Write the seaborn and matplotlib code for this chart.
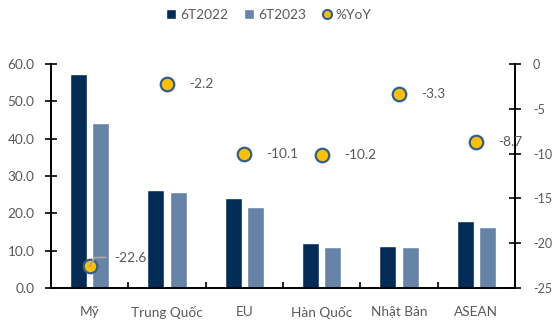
import numpy as np
import pandas as pd
import matplotlib
matplotlib.use("Agg")
import matplotlib.pyplot as plt
from matplotlib.lines import Line2D
from matplotlib.patches import Patch
import seaborn as sns

categories = ["Mỹ", "Trung Quốc", "EU", "Hàn Quốc", "Nhật Bản", "ASEAN"]
val_2022 = [57.2, 26.2, 24.0, 12.1, 11.3, 17.9]
val_2023 = [44.3, 25.6, 21.6, 10.9, 11.0, 16.3]
yoy = [-22.6, -2.2, -10.1, -10.2, -3.3, -8.7]
left_ticks = [0, 10, 20, 30, 40, 50, 60]
right_ticks = [0, -5, -10, -15, -20, -25]

DARK = "#022C55"
LIGHT = "#6683A8"
GOLD = "#FFC000"
RING = "#2F5F8F"
TXT = "#595959"
FS = 9.8

sns.set_theme(style="white")
plt.rcParams["font.family"] = ["Lato", "DejaVu Sans"]

df = pd.DataFrame({
    "cat": categories * 2,
    "val": val_2022 + val_2023,
    "series": ["6T2022"] * 6 + ["6T2023"] * 6,
})

fig = plt.figure(figsize=(5.52, 3.22), dpi=100)
ax = fig.add_axes([51 / 552, 1 - 288 / 322, 464 / 552, 224 / 322])

sns.barplot(data=df, x="cat", y="val", hue="series", palette=[DARK, LIGHT],
            width=0.58, gap=0.24, ax=ax, legend=False, saturation=1)

ax.set_xlim(-0.5, 5.5)
ax.set_ylim(0, 60)
ax.set_yticks(left_ticks)
ax.set_yticklabels([f"{v:.1f}" for v in left_ticks])
ax.set_xlabel("")
ax.set_ylabel("")

ax2 = ax.twinx()
xpos = np.arange(len(categories))
sns.scatterplot(x=xpos, y=yoy, ax=ax2, s=95, color=GOLD, edgecolor=RING,
                linewidth=1.6, zorder=5)
ax2.set_ylim(-25, 0)
ax2.set_yticks(right_ticks)
ax2.set_yticklabels([f"{v:g}" for v in right_ticks])
ax2.set_xlim(-0.5, 5.5)

# value labels beside each marker
for i, v in enumerate(yoy):
    if i == 0:
        ax2.annotate(f"{v:.1f}", xy=(i, v), xytext=(24, 8),
                     textcoords="offset pixels", ha="left", va="center",
                     fontsize=FS, color=TXT, zorder=6)
        ax2.annotate("", xy=(i, v), xytext=(16, 9), textcoords="offset pixels",
                     arrowprops=dict(arrowstyle="-", color="#A6A6A6", lw=1.3,
                                     shrinkA=0, shrinkB=0,
                                     connectionstyle="angle,angleA=0,angleB=61"),
                     zorder=6)
    else:
        ax2.annotate(f"{v:.1f}", xy=(i, v), xytext=(22, 0),
                     textcoords="offset pixels", ha="left", va="center",
                     fontsize=FS, color=TXT, zorder=6)

# category boundary ticks on the x axis
ax.set_xticks(xpos)
ax.set_xticklabels(categories)
ax.set_xticks(np.arange(-0.5, 6.0, 1.0), minor=True)
ax.tick_params(axis="x", which="major", length=0, pad=13, labelsize=FS,
               labelcolor=TXT)
ax.tick_params(axis="x", which="minor", direction="in", length=4, width=1.2,
               color="black", bottom=True)
ax.tick_params(axis="y", direction="inout", length=8, width=1.2, color="black",
               labelsize=FS, labelcolor=TXT, pad=8, left=True)
ax2.tick_params(axis="y", direction="inout", length=8, width=1.2, color="black",
                labelsize=9, labelcolor=TXT, pad=9, right=True)

for a in (ax, ax2):
    a.spines["top"].set_visible(False)
    for s in ("left", "right", "bottom"):
        a.spines[s].set_color("black")
        a.spines[s].set_linewidth(1.4)
ax.spines["right"].set_visible(False)
ax2.spines["left"].set_visible(False)
ax2.spines["bottom"].set_visible(False)
ax.grid(False)
ax2.grid(False)

handles = [
    Patch(facecolor=DARK, label="6T2022"),
    Patch(facecolor=LIGHT, label="6T2023"),
    Line2D([], [], marker="o", linestyle="", markerfacecolor=GOLD,
           markeredgecolor=RING, markeredgewidth=1.5, markersize=6.5, label="%YoY"),
]
fig.legend(handles=handles, loc="center", bbox_to_anchor=(0.487, 1 - 15 / 322),
           ncol=3, frameon=False, fontsize=FS, labelcolor=TXT,
           handlelength=0.75, handleheight=0.75, handletextpad=0.25,
           columnspacing=1.2)

fig.savefig("out.png", dpi=100)
